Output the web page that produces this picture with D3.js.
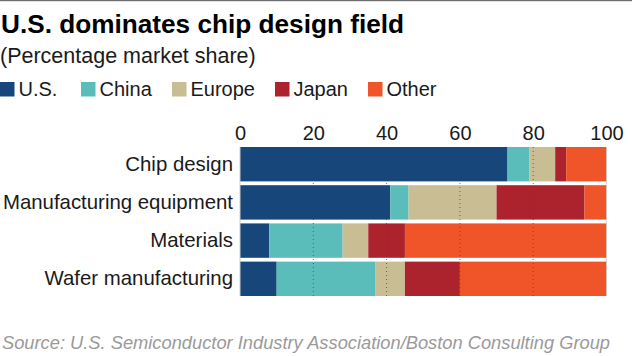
<!DOCTYPE html>
<html><head><meta charset="utf-8">
<script src="https://cdn.jsdelivr.net/npm/d3@7"></script>
<style>body{margin:0;background:#fff;}svg{display:block;font-family:"Liberation Sans",Arial,sans-serif;}</style>
</head><body>
<script>
const categories = ["Chip design","Manufacturing equipment","Materials","Wafer manufacturing"];
const seriesNames = ["U.S.","China","Europe","Japan","Other"];
const usShare     = [73, 41, 8, 10];
const chinaShare  = [6, 5, 20, 27];
const europeShare = [7, 24, 7, 8];
const japanShare  = [3, 24, 10, 15];
const otherShare  = [11, 6, 55, 40];
const tickValues = [0, 20, 40, 60, 80, 100];
const colors = ["#17467a","#5bbdba","#c9bd93","#ac222d","#ef5529"];

const W = 632, H = 356;
const svg = d3.select("body").append("svg").attr("width", W).attr("height", H);
svg.append("rect").attr("x",0).attr("y",0).attr("width",W).attr("height",1.2).attr("fill","#6e6e6e");

svg.append("text").attr("x",1).attr("y",33).attr("font-size",26.2).attr("font-weight","bold").attr("fill","#000").text("U.S. dominates chip design field");
svg.append("text").attr("x",0).attr("y",63).attr("font-size",21.5).attr("fill","#1a1a1a").text("(Percentage market share)");

const legendX = [0, 81, 172, 275, 368];
seriesNames.forEach((n,i)=>{
  svg.append("rect").attr("x",legendX[i]).attr("y",82).attr("width",14.5).attr("height",14.5).attr("fill",colors[i]);
  svg.append("text").attr("x",legendX[i]+18.5).attr("y",96).attr("font-size",20).attr("fill","#1a1a1a").text(n);
});

const rows = categories.map((c,i)=>({cat:c, vals:[usShare[i],chinaShare[i],europeShare[i],japanShare[i],otherShare[i]]}));
const x = d3.scaleLinear().domain([0,100]).range([240,606.5]);
const y = d3.scaleBand().domain(categories).range([147,296]).paddingInner(0.1).paddingOuter(0);

const g = svg.append("g");
rows.forEach(r=>{
  let acc = 0;
  r.vals.forEach((v,k)=>{
    g.append("rect").attr("x",x(acc)).attr("y",y(r.cat)).attr("width",x(acc+v)-x(acc)).attr("height",y.bandwidth()).attr("fill",colors[k]);
    acc += v;
  });
});

// grid lines
svg.append("g").selectAll("line").data(tickValues.filter(d=>d>0)).join("line")
  .attr("x1",d=>x(d)).attr("x2",d=>x(d)).attr("y1",147).attr("y2",296)
  .attr("stroke",d=>d===100?"#ccc":"#444").attr("stroke-width",1).attr("stroke-dasharray",d=>d===100?null:"1,3").attr("opacity",0.75);
svg.append("line").attr("x1",x(0)).attr("x2",x(0)).attr("y1",147).attr("y2",296).attr("stroke","#ccc");

// top axis
const ax = svg.append("g").attr("transform","translate(0,140)")
  .call(d3.axisTop(x).tickValues(tickValues).tickSize(0).tickPadding(0).tickFormat(d3.format("d")));
ax.select(".domain").remove();
ax.selectAll("text").attr("font-size",20).attr("fill","#1a1a1a").attr("font-family","Liberation Sans, Arial, sans-serif").attr("dy",0);

// category labels
const ay = svg.append("g").attr("transform","translate(233,0)")
  .call(d3.axisLeft(y).tickSize(0).tickPadding(0));
ay.select(".domain").remove();
ay.selectAll("text").attr("font-size",20.4).attr("fill","#1a1a1a").attr("font-family","Liberation Sans, Arial, sans-serif");

svg.append("text").attr("x",2).attr("y",349).attr("font-size",18.3).attr("font-style","italic").attr("fill","#9a9a9a").text("Source: U.S. Semiconductor Industry Association/Boston Consulting Group");
</script>
</body></html>
